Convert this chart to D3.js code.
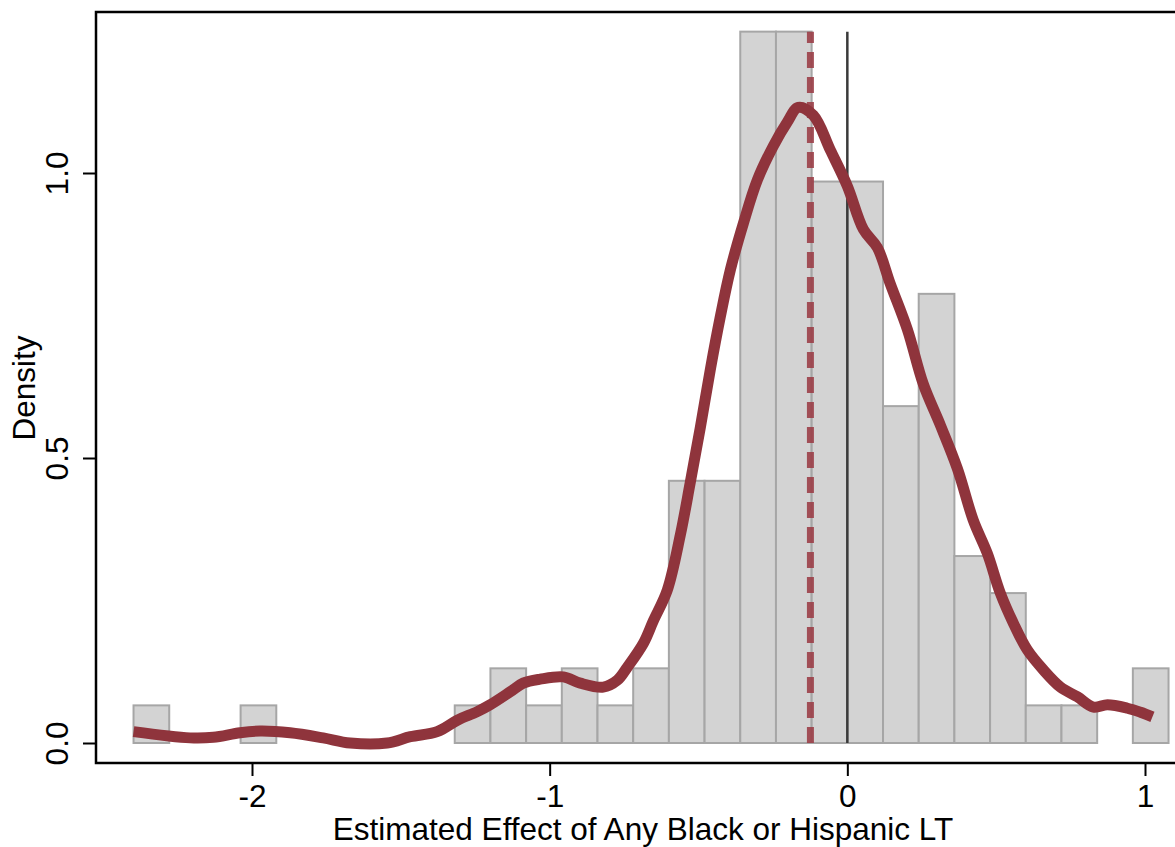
<!DOCTYPE html>
<html>
<head>
<meta charset="utf-8">
<script src="https://cdn.jsdelivr.net/npm/d3@7"></script>
<style>
  body { margin: 0; background: #fff; }
  svg { display: block; }
</style>
</head>
<body>
<div id="chart"></div>
<script>
// histogram: bins start at binStart, each binWidth wide
const binStart = -2.398;
const binWidth = 0.1199;
const binDensity = [0.066, 0, 0, 0.066, 0, 0, 0, 0, 0, 0.066, 0.131, 0.066, 0.131, 0.066, 0.131,
                    0.46, 0.46, 1.248, 1.248, 0.985, 0.985, 0.591, 0.788, 0.328, 0.263, 0.066, 0.066, 0, 0.131];

// kernel density estimate
const kdeX = [-2.398, -2.208, -2.130, -2.040, -1.973, -1.872, -1.761, -1.670, -1.546, -1.468, -1.378,
              -1.310, -1.243, -1.200, -1.132, -1.089, -1.032, -0.954, -0.897, -0.820, -0.773, -0.739,
              -0.685, -0.652, -0.605, -0.561, -0.528, -0.494, -0.460, -0.427, -0.393, -0.349, -0.302,
              -0.249, -0.202, -0.165, -0.114, -0.057, 0, 0.054, 0.101, 0.144, 0.202, 0.255, 0.313,
              0.370, 0.423, 0.470, 0.514, 0.558, 0.605, 0.659, 0.716, 0.773, 0.827, 0.874, 0.941, 0.985, 1.025];
const kdeY = [0.020, 0.009, 0.010, 0.018, 0.021, 0.018, 0.009, 0.0, 0.0, 0.011, 0.020,
              0.040, 0.055, 0.067, 0.090, 0.105, 0.112, 0.116, 0.105, 0.098, 0.110, 0.133,
              0.175, 0.214, 0.268, 0.365, 0.456, 0.553, 0.656, 0.747, 0.830, 0.912, 0.988,
              1.047, 1.089, 1.115, 1.101, 1.040, 0.977, 0.901, 0.869, 0.806, 0.725, 0.630, 0.557,
              0.481, 0.391, 0.333, 0.263, 0.210, 0.163, 0.128, 0.098, 0.081, 0.063, 0.067, 0.061, 0.054, 0.046];

const meanEffect = -0.124;
const refLine = 0;
const refTop = 1.248;

const xTicks = [-2, -1, 0, 1];
const yTicks = [0, 0.5, 1.0];

const W = 1175, H = 847;
const plotLeft = 96, plotTop = 12, plotBottom = 763;

const svg = d3.select("#chart").append("svg")
    .attr("width", W).attr("height", H);

let x = d3.scaleLinear().domain([-2, 1]).range([252, 1145]);
let y = d3.scaleLinear().domain([0, 1]).range([743, 173]);

const font = "'Liberation Sans', Arial, Helvetica, sans-serif";
const fontSize = 31.5;

// bars
let bins = binDensity.map((d, i) => ({x0: binStart + i * binWidth, x1: binStart + (i + 1) * binWidth, d: d}))
    .filter(b => b.d > 0);
svg.append("g").selectAll("rect")
    .data(bins)
    .join("rect")
    .attr("x", b => x(b.x0))
    .attr("width", b => x(b.x1) - x(b.x0))
    .attr("y", b => y(b.d))
    .attr("height", b => y(0) - y(b.d))
    .attr("fill", "#d3d3d3")
    .attr("stroke", "#a6a6a6")
    .attr("stroke-width", 2);

// zero reference line
svg.append("line")
    .attr("x1", x(refLine)).attr("x2", x(refLine))
    .attr("y1", y(0)).attr("y2", y(refTop))
    .attr("stroke", "#3a3a3a").attr("stroke-width", 2.5);

// mean dashed line
svg.append("line")
    .attr("x1", x(meanEffect)).attr("x2", x(meanEffect))
    .attr("y1", y(0)).attr("y2", y(refTop))
    .attr("stroke", "#9b3f48").attr("stroke-opacity", 0.9)
    .attr("stroke-width", 7)
    .attr("stroke-dasharray", "16,9");

// density curve
let line = d3.line()
    .x(d => x(d[0]))
    .y(d => y(d[1]))
    .curve(d3.curveCatmullRom);
svg.append("path")
    .datum(kdeX.map((v, i) => [v, kdeY[i]]))
    .attr("d", line)
    .attr("fill", "none")
    .attr("stroke", "#8f343c")
    .attr("stroke-width", 11)
    .attr("stroke-linejoin", "round");

// frame
svg.append("path")
    .attr("d", `M${W},${plotTop}H${plotLeft}V${plotBottom}H${W}`)
    .attr("fill", "none").attr("stroke", "#000").attr("stroke-width", 2.5);

// x axis
let xAxis = svg.append("g")
    .attr("transform", `translate(0,${plotBottom})`)
    .call(d3.axisBottom(x).tickValues(xTicks).tickSize(13).tickPadding(9).tickFormat(d => String(d)));
xAxis.select(".domain").remove();
xAxis.selectAll("line").attr("stroke", "#000").attr("stroke-width", 2);
xAxis.selectAll("text").attr("font-family", font).attr("font-size", fontSize).attr("fill", "#000");

// y axis
let yAxis = svg.append("g")
    .attr("transform", `translate(${plotLeft},0)`)
    .call(d3.axisLeft(y).tickValues(yTicks).tickSize(13).tickFormat(d3.format(".1f")));
yAxis.select(".domain").remove();
yAxis.selectAll("line").attr("stroke", "#000").attr("stroke-width", 2);
yAxis.selectAll("text")
    .attr("font-family", font).attr("font-size", fontSize).attr("fill", "#000")
    .attr("x", null).attr("dy", null)
    .attr("text-anchor", "middle")
    .attr("transform", "translate(-28,0) rotate(-90)");

// titles
svg.append("text")
    .attr("x", 643).attr("y", 840)
    .attr("text-anchor", "middle")
    .attr("font-family", font).attr("font-size", fontSize)
    .text("Estimated Effect of Any Black or Hispanic LT");

svg.append("text")
    .attr("transform", "translate(35,388) rotate(-90)")
    .attr("text-anchor", "middle")
    .attr("font-family", font).attr("font-size", fontSize)
    .text("Density");
</script>
</body>
</html>
